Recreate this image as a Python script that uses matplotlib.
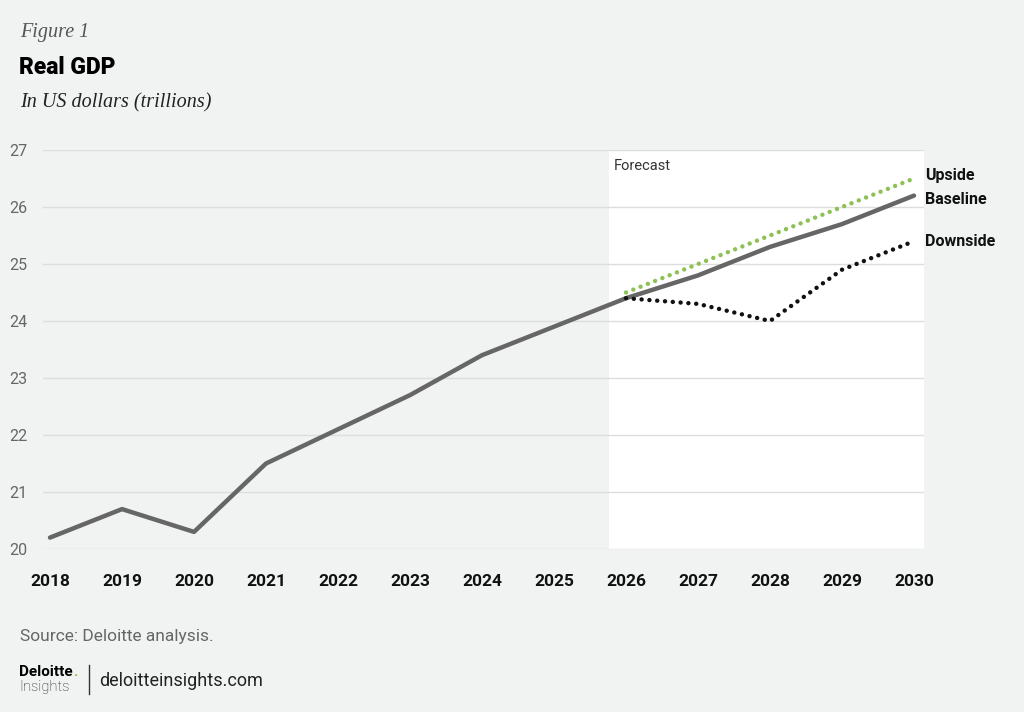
import matplotlib
matplotlib.use("Agg")
import matplotlib.pyplot as plt
from matplotlib.lines import Line2D

years = [2018, 2019, 2020, 2021, 2022, 2023, 2024, 2025, 2026, 2027, 2028, 2029, 2030]
baseline = [20.2, 20.7, 20.3, 21.5, 22.1, 22.7, 23.4, 23.9, 24.4, 24.8, 25.3, 25.7, 26.2]
fc_years = [2026, 2027, 2028, 2029, 2030]
upside = [24.5, 25.0, 25.5, 26.0, 26.5]
downside = [24.4, 24.3, 24.0, 24.9, 25.4]
yticks = [20, 21, 22, 23, 24, 25, 26, 27]
forecast_start = 2025.76

BG = "#f1f2f2"
cond = ["Roboto", "DejaVu Sans"]

fig = plt.figure(figsize=(10.24, 7.12), dpi=100, facecolor=BG)
ax = fig.add_axes([43/1024, 1-549/712, (924-43)/1024, (549-150)/712])
ax.set_facecolor(BG)
xl = (2018 - 7/72, 2030 + 10/72)
ax.set_xlim(*xl)
ax.set_ylim(20, 27)

ax.axvspan(forecast_start, xl[1], color="white", zorder=0, lw=0)
for y in yticks:
    ax.axhline(y, color="#dcdddd", lw=1, zorder=1)

ax.plot(years, baseline, color="#666666", lw=3.2, solid_capstyle="round", zorder=3)
ax.plot(fc_years, upside, color="#8dc153", lw=3.2, linestyle=(0, (0.01, 1.75)),
        dash_capstyle="round", zorder=4)
ax.plot(fc_years, downside, color="#111111", lw=3.2, linestyle=(0, (0.01, 1.75)),
        dash_capstyle="round", zorder=4)

for s in ax.spines.values():
    s.set_visible(False)
ax.set_xticks(years)
ax.set_xticklabels([str(y) for y in years], family=cond, fontweight="bold",
                   fontsize=12.5, color="#111111")
ax.set_yticks(yticks)
ax.set_yticklabels([str(y) for y in yticks], family=cond, fontsize=11.5, color="#666666")
ax.tick_params(axis="x", length=0, pad=18)
ax.tick_params(axis="y", length=0, pad=8)
for lab in ax.get_yticklabels():
    lab.set_horizontalalignment("left")
    lab.set_x(-23/881)

ax.text(forecast_start + 5/72, 26.72, "Forecast", family=cond, fontsize=10.5,
        color="#333333", va="center", ha="left")
for name, val in [("Upside", 26.56), ("Baseline", 26.14), ("Downside", 25.40)]:
    ax.text(2030 + 11/72, val, name, family=cond, fontweight="bold", fontsize=11.5,
            color="#111111", va="center", ha="left", clip_on=False)

fig.text(20/1024, 1-33/712, "Figure 1", family=["Liberation Serif", "DejaVu Serif"],
         style="italic", fontsize=14.5, color="#555555", va="center")
fig.text(19/1024, 1-67/712, "Real GDP", family=["Roboto", "DejaVu Sans"], fontweight="black",
         fontsize=16.5, color="#000000", va="center")
fig.text(20/1024, 1-103/712, "In US dollars (trillions)", family=["Liberation Serif", "DejaVu Serif"],
         style="italic", fontsize=14.5, color="#222222", va="center")
fig.text(20/1024, 1-636/712, "Source: Deloitte analysis.", family=cond, fontsize=12.5,
         color="#666666", va="center")

fig.text(19/1024, 1-672/712, "Deloitte", family=["Roboto", "DejaVu Sans"], fontweight="bold",
         fontsize=11, color="#000000", va="center")
fig.text(73/1024, 1-672/712, ".", family=["Roboto", "DejaVu Sans"], fontweight="bold",
         fontsize=11, color="#86bc25", va="center")
fig.text(19/1024, 1-687/712, "Insights", family=["Roboto", "DejaVu Sans"], fontweight="light",
         fontsize=10.5, color="#222222", va="center")
fig.add_artist(Line2D([89/1024, 89/1024], [1-665/712, 1-694/712], color="#333333", lw=1))
fig.text(99/1024, 1-681/712, "deloitteinsights.com", family=cond, fontsize=13,
         color="#222222", va="center")

fig.savefig("out.png", dpi=100, facecolor=BG)
